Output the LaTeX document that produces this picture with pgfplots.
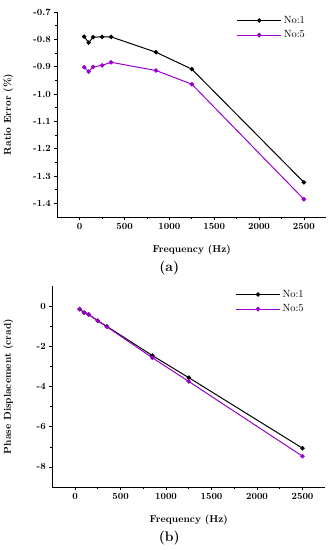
\documentclass[border=0pt]{standalone}
\usepackage{pgfplots}
\pgfplotsset{compat=1.18}
\definecolor{pur}{RGB}{153,0,204}
\begin{document}
\begin{tikzpicture}[x=1bp,y=1bp]
\path (0bp,0bp) rectangle (327bp,-550bp);
\pgfplotsset{
  myax/.style={
    scale only axis,
    axis x line*=bottom, axis y line*=left,
    tick align=outside,
    minor tick num=1,
    xmin=-250, xmax=2750,
    xtick={0,500,1000,1500,2000,2500},
    xticklabel style={/pgf/number format/1000 sep={}},
    major tick length=3bp, minor tick length=2bp,
    tick style={black, line width=0.6pt},
    axis line style={line width=0.6pt},
    every tick label/.append style={font=\fontsize{9.5}{11}\selectfont\bfseries},
    /pgf/number format/assume math mode=true,
    label style={font=\fontsize{10}{12}\selectfont\bfseries},
    xlabel={Frequency (Hz)},
    legend style={draw=none, fill=none, at={(0.94,1.0)}, anchor=north east, font=\fontsize{10.5}{12}\selectfont, row sep=2pt},
    legend cell align=left,
    legend image code/.code={\draw[mark repeat=2,mark phase=2] plot coordinates {(0bp,0bp) (22bp,0bp) (44bp,0bp)};},
    every axis plot/.append style={line width=1pt, mark=*, mark size=1.7pt},
  }
}
\begin{axis}[myax, at={(49bp,-217bp)}, anchor=south west, width=269bp, height=205bp,
  ymin=-1.45, ymax=-0.7,
  ytick={-1.4,-1.3,-1.2,-1.1,-1.0,-0.9,-0.8,-0.7},
  yticklabel style={/pgf/number format/.cd, fixed, fixed zerofill, precision=1},
  ylabel={Ratio Error (\%)},
  ylabel style={at={(axis description cs:-0.15,0.5)}, anchor=south},
  xlabel style={at={(axis description cs:0.5,-0.12)}, anchor=north},
]
\addplot[black, mark options={fill=black}] coordinates {(50,-0.790) (100,-0.812) (150,-0.792) (250,-0.791) (350,-0.791) (850,-0.847) (1250,-0.909) (2500,-1.323)};
\addplot[pur, mark options={fill=pur}] coordinates {(50,-0.902) (100,-0.918) (150,-0.901) (250,-0.895) (350,-0.884) (850,-0.914) (1250,-0.964) (2500,-1.385)};
\legend{No:1, No:5}
\end{axis}
\node[font=\fontsize{14}{16}\selectfont\bfseries] at (161bp,-268bp) {(a)};
\begin{axis}[myax, at={(44bp,-487bp)}, anchor=south west, width=273bp, height=201bp,
  ymin=-9, ymax=1,
  ytick={-8,-6,-4,-2,0},
  ylabel={Phase Displacement (crad)},
  ylabel style={at={(axis description cs:-0.13,0.5)}, anchor=south},
  xlabel style={at={(axis description cs:0.5,-0.12)}, anchor=north},
]
\addplot[black, mark options={fill=black}] coordinates {(50,-0.15) (100,-0.32) (150,-0.42) (250,-0.73) (350,-1.01) (850,-2.46) (1250,-3.56) (2500,-7.07)};
\addplot[pur, mark options={fill=pur}] coordinates {(50,-0.15) (100,-0.32) (150,-0.42) (250,-0.73) (350,-1.03) (850,-2.57) (1250,-3.75) (2500,-7.47)};
\legend{No:1, No:5}
\end{axis}
\node[font=\fontsize{14}{16}\selectfont\bfseries] at (161bp,-538bp) {(b)};
\end{tikzpicture}
\end{document}
